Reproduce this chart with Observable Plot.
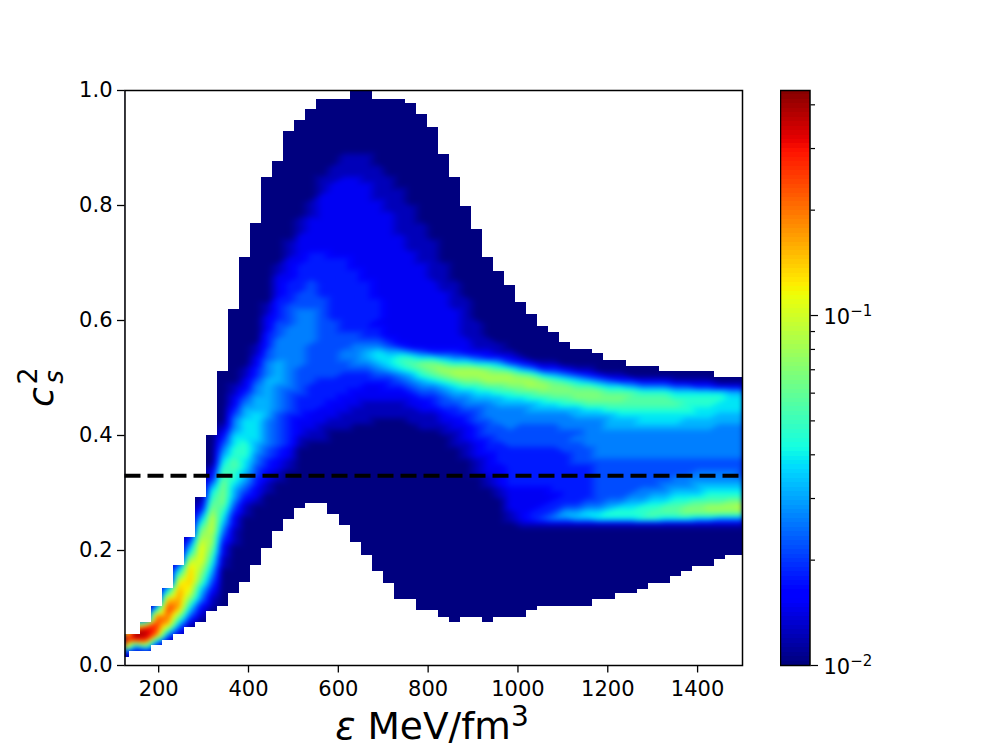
<!DOCTYPE html>
<html><head><meta charset="utf-8">
<script src="https://cdn.jsdelivr.net/npm/d3@7"></script>
<script src="https://cdn.jsdelivr.net/npm/@observablehq/plot@0.6"></script>
<style>html,body{margin:0;background:#fff}#c{position:relative;width:996px;height:747px;overflow:hidden}#c svg{position:absolute;top:0}</style>
</head><body><div id="c"></div>
<script>
const binStart = 110, binWidth = 24.58;
const xTicks = [200,400,600,800,1000,1200,1400];
const yTicks = [0,0.2,0.4,0.6,0.8,1];
const soundSpeedRef = 0.33;
const vMin = 0.01, vMax = 0.4395;
const cbMajor = [0.01,0.1];
const cbMinor = [0.02,0.03,0.04,0.05,0.06,0.07,0.08,0.09,0.2,0.3,0.4];
const upperEdge = [.054,.054,.074,.103,.134,.174,.222,.292,.40,.511,.62,.709,.769,.848,.877,.928,.947,.967,.985,.985,.985,1,1,.985,.985,.985,.977,.958,.936,.888,.848,.798,.758,.71,.686,.661,.631,.61,.59,.579,.561,.55,.55,.542,.53,.53,.52,.52,.52,.511,.511,.511,.511,.511,.501,.501,.501];
const lowerEdge = [.0144,.025,.025,.035,.043,.054,.066,.074,.094,.103,.125,.144,.174,.204,.233,.254,.273,.282,.282,.263,.243,.214,.192,.163,.143,.114,.114,.095,.095,.084,.074,.084,.084,.074,.084,.084,.084,.095,.103,.103,.103,.103,.103,.114,.114,.125,.125,.133,.143,.143,.154,.163,.173,.173,.184,.192,.192];
// log-density level per column (0 = floor ... k = top of colour bar); position in string = c_s^2 * 100
const densityLevels = [
"015gkd7000","0027ikf600","003aiji800","00038ghhg9 5","000026bfgh ge96","00000247ad fffeda74",
"0000000246 8acdeeedb8 642","0000000012 35679abcdd dcba864210",
"0000000000 1123456789 abbcccba98 75321",
"0000000000 0000000112 23456789aa aa99876543 21",
"0000000000 0000000000 0111223456 6788998877 6554322110",
"0000000000 0000000000 0000001123 4566778887 7776654322 11",
"0000000000 0000000000 0000000012 2334455667 7777666554 332211",
"0000000000 0000000000 0000000000 1122334455 5556666666 5554433322 211",
"0000000000 0000000000 0000000000 0011223344 4444555556 6665555444 3333222211",
"0000000000 0000000000 0000000000 0000112233 3333444455 5555555554 4443333222 2111",
"0000000000 0000000000 0000000000 0000000011 2223333444 4455555555 5544433333 2222211100",
"0000000000 0000000000 0000000000 0000000001 1222333334 4444445555 5544444333 3322222211 1",
"0000000000 0000000000 0000000000 0000000001 1122233333 4444444444 4444333333 3322222222 22111",
"0000000000 0000000000 0000000000 0000000000 0112223333 4444444444 3333333333 3222222222 2222111",
"0000000000 0000000000 0000000000 0000000000 0111222333 3445544433 3333333333 3222222222 222221111",
"0000000000 0000000000 0000000000 0000000000 0011122233 3455554433 3333333332 2222222222 222221111",
"0000000000 0000000000 0000000000 0000000000 0011112223 3456654333 3333333222 2222222222 222211111",
"0000000000 0000000000 0000000000 0000000000 0001112223 4567754332 3333222222 2222222222 2111111",
"0000000000 0000000000 0000000000 0000000000 0001112233 4677643222 2222222222 2222222221 11111",
"0000000000 0000000000 0000000000 0000000000 0001112234 5788632222 2222222222 2222211111 111",
"0000000000 0000000000 0000000000 0000000000 0011122345 6898522222 2222222222 2211111111",
"0000000000 0000000000 0000000000 0000000000 0111223456 89a7422222 2222222222 1111111",
"0000000000 0000000000 0000000000 0000000000 0111233457 9aa7322222 2222222111 1111",
"0000000000 0000000000 0000000000 0000000000 1122344568 ab96322222 2222211111",
"0000000000 0000000000 0000000000 0000000011 1223345679 bb85322222 2211111",
"0000000000 0000000000 0000000000 0000001112 223345568a bb85222111 1111",
"0000000000 0000000000 0000000000 0001112223 334445678a bb74211111",
"0000000000 0000000000 0000000000 0112222333 444555679b ba73211",
"0000000000 0000000000 0000000001 1222233334 445556689b b96311",
"0000000000 0000000000 0000011222 2333333344 45555678ab b8421",
"0000000000 0000000000 0000122222 2333333344 44555679ab a631",
"0000000000 0000000000 0000133222 2333333344 44556689bb 952",
"0000000000 0000000000 0000143322 2333333344 4455678aba 731",
"0000000000 0000000000 0000154332 3333333344 4455679aa9 631",
"0000000000 0000000000 0000156433 3333333444 4555689aa8 52",
"0000000000 0000000000 0000166433 3333344445 455668aa97 41",
"0000000000 0000000000 0000167543 3333344455 555679aa96 31",
"0000000000 0000000000 0000177544 4444445555 555679aa85 2",
"0000000000 0000000000 0000178654 4444445555 566689a974 1",
"0000000000 0000000000 0000178754 4444445555 566789a973 1",
"0000000000 0000000000 0000178765 4444445555 5667899963",
"0000000000 0000000000 0000188865 5444445555 5677899852",
"0000000000 0000000000 0000189876 5444445555 5677899852",
"0000000000 0000000000 0000179976 5544445555 5677899852",
"0000000000 0000000000 0000179987 6554445555 5677898741",
"0000000000 0000000000 000017aa87 6554445555 5667888741",
"0000000000 0000000000 000016aa97 6655445555 5667788731",
"0000000000 0000000000 000016ab98 7655445555 5667788731",
"0000000000 0000000000 000015ab98 7655445555 556677872",
"0000000000 0000000000 000015aba8 7655445555 556677762",
"0000000000 0000000000 000015aca8 7654445555 556677762"
];
const jetR = d3.scaleLinear([0,.35,.66,.89,1],[0,0,255,255,127.5]);
const jetG = d3.scaleLinear([0,.125,.375,.64,.91,1],[0,0,255,255,0,0]);
const jetB = d3.scaleLinear([0,.11,.34,.65,1],[127.5,255,255,0,0]);
const jet = t => `rgb(${jetR(t)|0},${jetG(t)|0},${jetB(t)|0})`;
const levelChars = "0123456789abcdefghijk";
const nCols = densityLevels.length, nRows = 100;
const cols = densityLevels.map(s => s.replace(/ /g,""));
const samples = [];
for (let c = 0; c < nCols; c++) for (let r = 0; r < nRows; r++) {
  const L = Math.max(0, levelChars.indexOf(cols[c][r] ?? "0"));
  samples.push({x: binStart+(c+.5)*binWidth, y: (r+.5)/100, v: L});
}
const bins = upperEdge.map((u,i)=>({x1:binStart+i*binWidth, x2:binStart+(i+1)*binWidth, lo:lowerEdge[i], hi:u}));
const crisp = {clip:true, shapeRendering:"crispEdges"};
const main = Plot.plot({
  width:996, height:747, marginLeft:124.5, marginRight:254, marginTop:90, marginBottom:82,
  x:{domain:[125,1500]}, y:{domain:[0,1]}, color:{type:"linear",domain:[0,20],interpolate:jet,clamp:true},
  style:{fontFamily:"DejaVu Sans", background:"transparent", color:"#000"},
  marks:[
    Plot.raster(samples,{x:"x",y:"y",fill:"v",interpolate:"barycentric",pixelSize:1,clip:true,
      x1:binStart,x2:1560,y1:1.04,y2:-0.04}),
    Plot.rect(bins,{x1:"x1",x2:"x2",y1:"hi",y2:()=>1.01,fill:"#fff",...crisp}),
    Plot.rect(bins,{x1:"x1",x2:"x2",y1:()=>-0.01,y2:"lo",fill:"#fff",...crisp}),
    Plot.ruleY([soundSpeedRef],{stroke:"#000",strokeWidth:4,strokeDasharray:"16,7"}),
    Plot.frame({stroke:"#000",strokeWidth:1.5}),
    Plot.axisX({ticks:xTicks,tickSize:7.5,tickPadding:8,fontSize:21,label:null,strokeWidth:1.3,tickFormat:"d"}),
    Plot.axisY({ticks:yTicks,tickSize:7.5,tickPadding:5,fontSize:21,label:null,tickFormat:".1f",strokeWidth:1.3})
  ]
});
d3.select(main).select("image").style("filter","blur(2.5px)");
const cbSteps = d3.range(0,129).map(i=>vMin*Math.pow(vMax/vMin,i/129));
const cbar = Plot.plot({
  width:216, height:747, marginLeft:0, marginRight:186.5, marginTop:90, marginBottom:82,
  x:{domain:[0,1],axis:null},
  y:{type:"log",domain:[vMin,vMax]}, color:{type:"log",domain:[vMin,vMax],interpolate:jet,clamp:true},
  style:{fontFamily:"DejaVu Sans", background:"transparent", color:"#000"},
  marks:[
    Plot.rect(cbSteps,{x1:()=>0,x2:()=>1,y1:d=>d,y2:d=>d*Math.pow(vMax/vMin,1/129),fill:d=>d,shapeRendering:"crispEdges"}),
    Plot.frame({stroke:"#000",strokeWidth:1.5}),
    Plot.axisY({anchor:"right",ticks:cbMinor,tickSize:4.5,tickFormat:()=>"",label:null,strokeWidth:1.2}),
    Plot.axisY({anchor:"right",ticks:cbMajor,tickSize:7.5,tickPadding:6,fontSize:21,label:null,strokeWidth:1.2,
      tickFormat:d=>d===0.01?"10|\u22122":"10|\u22121"})
  ]
});
cbar.style.left="780px";
const host=document.getElementById("c");
host.append(main,cbar);
d3.select(cbar).selectAll("text").each(function(){
  const [b,e]=this.textContent.split("|");
  if(!e) return;
  const t=d3.select(this); t.text(b).attr("y",8);
  t.append("tspan").attr("font-size",15).attr("dy",-8).text(e);
});
const s=d3.select(main);
const xl=s.append("text").attr("x",432).attr("y",738.5).attr("text-anchor","middle").attr("font-size",37.5).attr("font-family","DejaVu Sans").attr("fill","#000");
xl.append("tspan").attr("font-style","italic").text("\u03b5");
xl.append("tspan").text(" MeV/fm");
xl.append("tspan").attr("font-size",28).attr("dy",-13).text("3");
const yl=s.append("g").attr("font-family","DejaVu Sans").attr("fill","#000");
yl.append("text").attr("transform","translate(53,397) rotate(-90)").attr("font-size",36).attr("font-style","italic").text("c");
yl.append("text").attr("transform","translate(37,376) rotate(-90)").attr("font-size",27).text("2");
yl.append("text").attr("transform","translate(63,377) rotate(-90)").attr("font-size",26).attr("font-style","italic").text("s");
</script></body></html>
